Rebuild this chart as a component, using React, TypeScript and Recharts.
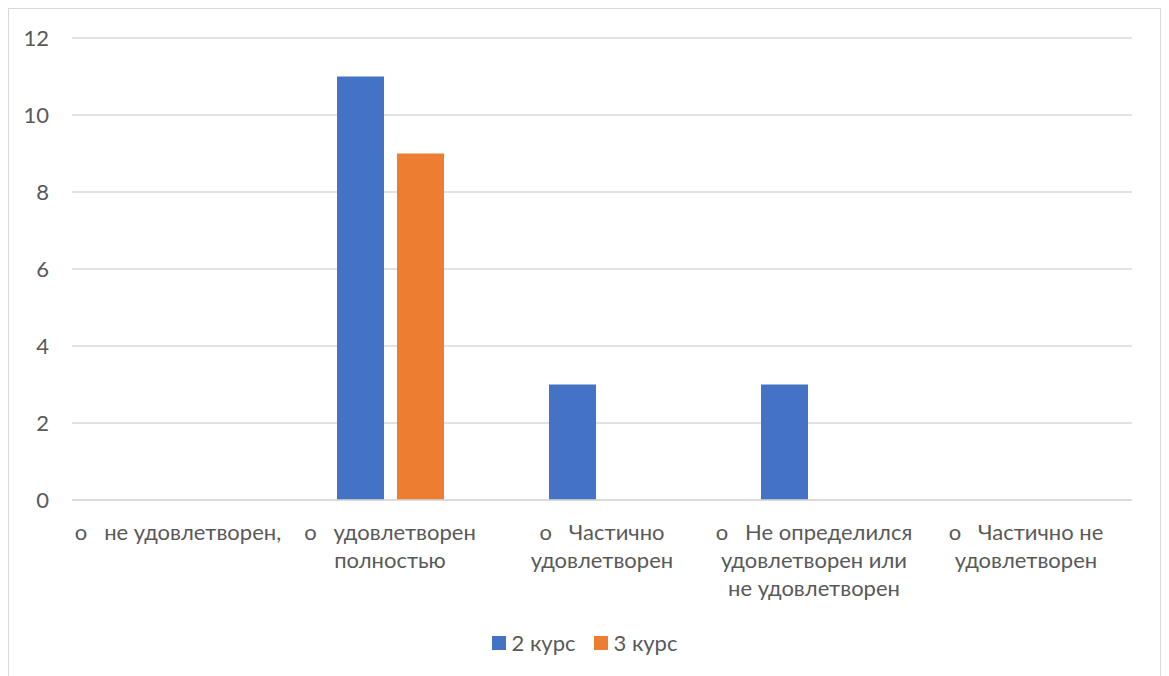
import React from 'react';
import { BarChart, Bar, XAxis, YAxis, CartesianGrid } from 'recharts';

const categories: string[][] = [
  ['o\u00a0\u00a0\u00a0не удовлетворен,'],
  ['o\u00a0\u00a0\u00a0удовлетворен', 'полностью'],
  ['o\u00a0\u00a0\u00a0Частично', 'удовлетворен'],
  ['o\u00a0\u00a0\u00a0Не определился', 'удовлетворен или', 'не удовлетворен'],
  ['o\u00a0\u00a0\u00a0Частично не', 'удовлетворен'],
];
const course2: number[] = [0, 11, 3, 3, 0];
const course3: number[] = [0, 9, 0, 0, 0];
const yTicks: number[] = [0, 2, 4, 6, 8, 10, 12];
const seriesNames = ['2 курс', '3 курс'];
const colors = ['#4472C4', '#ED7D31'];

const data = categories.map((c, i) => ({
  key: String(i),
  s2: course2[i],
  s3: course3[i],
}));

const FONT = 'Lato, "Open Sans", sans-serif';
const TEXT = '#595959';
const FS = 22;

const XTick = (props: any) => {
  const { x, y, payload } = props;
  const lines = categories[Number(payload.value)] || [];
  return (
    <g>
      {lines.map((l, i) => (
        <text
          key={i}
          x={x}
          y={y + 40 + i * 28}
          textAnchor="middle"
          fill={TEXT}
          fontSize={FS}
          fontFamily={FONT}
        >
          {l}
        </text>
      ))}
    </g>
  );
};

const LegendBox = () => (
  <div
    style={{
      position: 'absolute',
      top: 622,
      left: 0,
      width: 1151,
      display: 'flex',
      justifyContent: 'center',
      alignItems: 'center',
      fontFamily: FONT,
      fontSize: FS,
      color: TEXT,
      lineHeight: '24px',
    }}
  >
    {seriesNames.map((n, i) => (
      <div key={n} style={{ display: 'flex', alignItems: 'center', marginRight: i === 0 ? 18 : 0 }}>
        <span style={{ display: 'inline-block', width: 14, height: 14, background: colors[i], marginRight: 6 }} />
        <span>{n}</span>
      </div>
    ))}
  </div>
);

export default function App() {
  return (
    <div
      style={{
        width: 1151,
        height: 700,
        border: '1px solid #d9d9d9',
        background: '#fff',
        position: 'relative',
      }}
    >
      <BarChart
        width={1151}
        height={667}
        data={data}
        margin={{ top: 29, right: 28, left: 23, bottom: 0 }}
        barGap={13}
        barSize={47}
      >
        <CartesianGrid vertical={false} stroke="#d9d9d9" strokeWidth={1.3} />
        <XAxis
          dataKey="key"
          tick={<XTick />}
          tickLine={false}
          axisLine={{ stroke: '#d9d9d9', strokeWidth: 1.3 }}
          tickSize={0}
          tickMargin={0}
          height={176}
          interval={0}
        />
        <YAxis
          domain={[0, 12]}
          ticks={yTicks}
          width={40}
          tickLine={false}
          axisLine={false}
          tickSize={0}
          tickMargin={23}
          tick={{ fill: TEXT, fontSize: FS, fontFamily: FONT }}
        />
        <Bar dataKey="s2" name={seriesNames[0]} fill={colors[0]} isAnimationActive={false} />
        <Bar dataKey="s3" name={seriesNames[1]} fill={colors[1]} isAnimationActive={false} />
      </BarChart>
      <LegendBox />
    </div>
  );
}
